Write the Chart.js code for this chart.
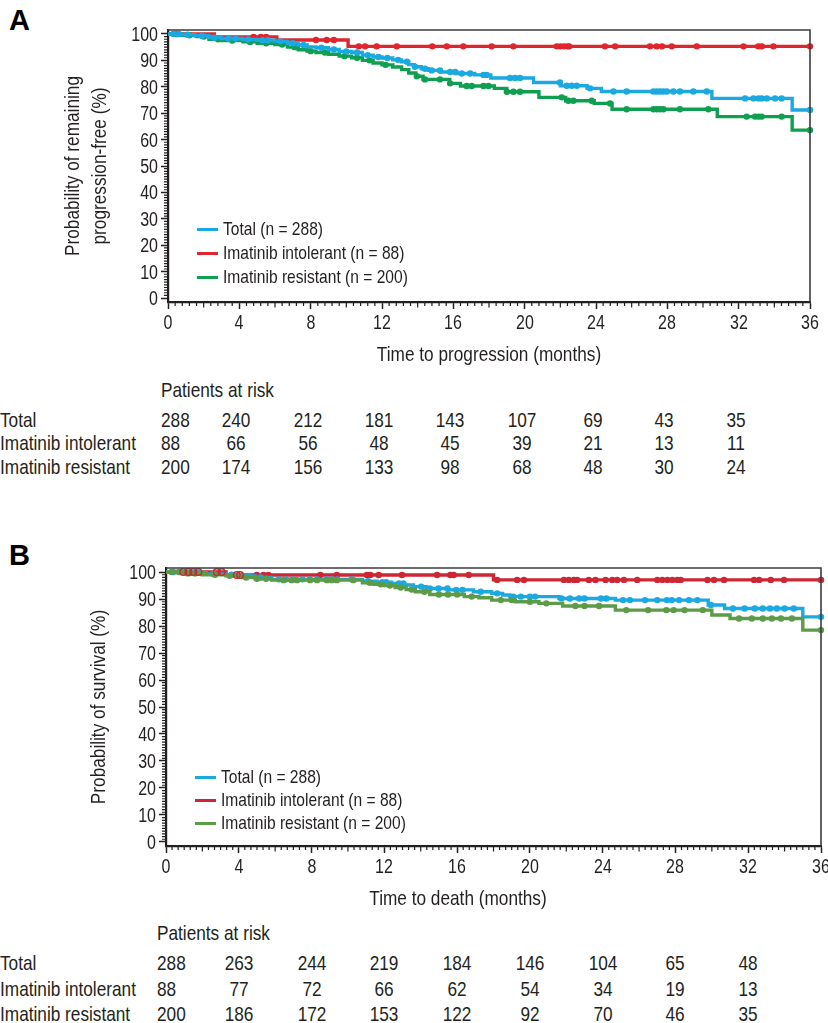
<!DOCTYPE html>
<html>
<head>
<meta charset="utf-8">
<script src="https://cdn.jsdelivr.net/npm/chart.js@4.4.1/dist/chart.umd.min.js"></script>
<style>
  html, body { margin: 0; padding: 0; background: #fff; }
  #wrap { position: relative; width: 828px; height: 1023px; overflow: hidden; background: #fff;
          font-family: "Liberation Sans", Arial, sans-serif; color: #231f20; }
  canvas { position: absolute; left: 0; }
  .letter { position: absolute; font-family: "Liberation Sans", Arial, sans-serif; font-weight: bold; font-size: 29px; line-height: 29px; color: #000; }
  .t { position: absolute; white-space: nowrap; line-height: 1.15; }
  .lg-line { position: absolute; width: 21px; height: 3px; }
</style>
</head>
<body>
<div id="wrap">
  <div class="letter" style="left:9px;top:6px">A</div>
  <canvas id="cA" width="828" height="372" style="top:0px"></canvas>
  <div class="letter" style="left:9px;top:541px">B</div>
  <canvas id="cB" width="828" height="390" style="top:530px"></canvas>
</div>
<script>
// ---------- shared tick labels ----------
const xTickVals = [0, 4, 8, 12, 16, 20, 24, 28, 32, 36];
const xTickLabels = ['0', '4', '8', '12', '16', '20', '24', '28', '32', '36'];
const yTickVals = [0, 10, 20, 30, 40, 50, 60, 70, 80, 90, 100];
const yTickLabels = ['0', '10', '20', '30', '40', '50', '60', '70', '80', '90', '100'];

const seriesNames = ['Total (n = 288)', 'Imatinib intolerant (n = 88)', 'Imatinib resistant (n = 200)'];
const riskRowLabels = ['Total', 'Imatinib intolerant', 'Imatinib resistant'];
const riskTimes = [0, 4, 8, 12, 16, 20, 24, 28, 32];

// ---------- Panel A: time to progression ----------
const pfsTotalT = [0, 0.8, 1.5, 2.3, 3.0, 4.2, 5.0, 6.0, 6.7, 7.3, 7.8, 8.3, 9.0, 9.6, 10.3, 10.9, 11.5, 12.0, 12.6, 13.1, 13.5, 13.8, 14.2, 14.6, 15.3, 16.2, 17.2, 18.1, 20.5, 22.0, 23.5, 24.3, 30.5, 35.0, 36.0];
const pfsTotalS = [100, 99.7, 99.3, 98.6, 98.3, 97.9, 97.6, 97.2, 96.5, 95.8, 95.1, 94.8, 94.1, 93.4, 93.0, 92.0, 91.3, 90.9, 90.2, 89.5, 88.4, 87.6, 86.8, 86.2, 85.6, 85.0, 84.5, 83.3, 81.6, 80.4, 79.4, 78.2, 75.6, 71.2, 71.2];
const pfsTotalCens = [0.3, 0.6, 1.1, 1.9, 2.6, 3.4, 3.8, 4.5, 5.3, 5.6, 6.3, 7.0, 7.6, 8.6, 9.3, 10.0, 10.6, 11.2, 11.8, 12.3, 12.9, 13.4, 13.85, 14.41, 14.79, 15.25, 15.82, 16.1, 16.47, 16.94, 17.69, 17.87, 19.18, 19.46, 19.74, 21.98, 22.36, 22.64, 22.92, 23.67, 24.98, 25.72, 27.22, 27.41, 27.59, 27.78, 27.97, 28.34, 28.71, 29.46, 30.21, 32.36, 32.83, 33.11, 33.29, 33.58, 34.04, 34.41, 36.0];

const pfsIntT = [0, 2.6, 6.1, 10.1, 36.0];
const pfsIntS = [100, 98.9, 97.7, 95.3, 95.3];
const pfsIntCens = [4.8, 5.2, 5.5, 8.3, 8.9, 9.3, 10.7, 11.05, 11.7, 12.83, 14.82, 15.63, 16.56, 18.15, 19.37, 21.8, 22.0, 22.2, 22.4, 22.5, 24.5, 25.07, 27.03, 27.4, 27.7, 28.25, 29.65, 32.27, 33.1, 33.3, 33.95, 36.0];

const pfsResT = [0, 0.8, 1.6, 2.3, 3.0, 4.2, 5.0, 6.0, 6.7, 7.3, 7.8, 8.3, 9.0, 9.6, 10.3, 10.9, 11.5, 12.0, 12.6, 13.1, 13.5, 13.9, 14.3, 15.8, 16.4, 18.3, 19.0, 20.8, 22.3, 23.9, 24.9, 30.8, 35.0, 36.0];
const pfsResS = [100, 99.5, 99.0, 98.0, 97.5, 97.0, 96.5, 96.0, 95.0, 94.0, 93.5, 93.0, 92.3, 91.6, 91.0, 90.0, 89.0, 88.3, 87.5, 86.5, 85.2, 84.0, 82.8, 81.3, 80.3, 79.4, 78.1, 76.0, 74.7, 73.7, 71.5, 68.7, 63.6, 63.6];
const pfsResCens = [0.5, 1.2, 2.0, 2.8, 3.6, 4.6, 5.5, 6.4, 7.1, 8.0, 8.8, 9.9, 10.6, 11.3, 12.2, 13.95, 14.41, 15.25, 15.82, 16.75, 17.03, 17.69, 17.97, 19.0, 19.37, 19.74, 22.08, 22.45, 22.73, 23.76, 24.79, 25.72, 27.22, 27.41, 27.59, 27.78, 28.71, 30.3, 32.45, 32.92, 33.11, 33.29, 34.41, 36.0];

const pfsRiskTotal = [288, 240, 212, 181, 143, 107, 69, 43, 35];
const pfsRiskInt = [88, 66, 56, 48, 45, 39, 21, 13, 11];
const pfsRiskRes = [200, 174, 156, 133, 98, 68, 48, 30, 24];

// ---------- Panel B: time to death ----------
const osTotalT = [0, 1.0, 2.2, 3.3, 4.2, 4.9, 5.8, 10.8, 11.6, 12.4, 13.1, 13.6, 14.3, 15.5, 16.9, 17.9, 18.5, 18.9, 21.6, 24.7, 29.8, 30.7, 35.0, 36.0];
const osTotalS = [100, 99.7, 99.3, 99.0, 98.6, 98.0, 97.3, 96.6, 96.2, 95.8, 95.2, 94.6, 93.9, 93.4, 92.7, 92.1, 91.5, 90.9, 90.2, 89.6, 87.8, 86.5, 83.4, 83.4];
const osTotalCens = [0.4, 0.8, 1.4, 1.8, 2.6, 3.6, 4.5, 5.2, 6.2, 6.6, 7.0, 7.5, 7.9, 8.3, 8.8, 9.1, 9.4, 10.2, 11.1, 11.9, 12.1, 12.8, 13.05, 14.02, 14.5, 14.98, 15.47, 15.95, 16.3, 17.3, 18.2, 19.09, 19.5, 20.0, 20.29, 21.74, 22.2, 22.71, 23.0, 23.91, 24.2, 25.12, 25.5, 26.33, 27.0, 27.53, 27.8, 28.2, 28.74, 29.2, 29.95, 31.16, 31.8, 32.36, 32.8, 33.2, 33.57, 34.0, 34.5, 36.0];

const osIntT = [0, 3.3, 18.0, 36.0];
const osIntS = [100, 98.9, 97.1, 97.1];
const osIntOpenCens = [0.95, 1.23, 1.5, 1.78, 2.79, 3.06, 3.89, 4.07];
const osIntCens = [4.99, 5.36, 5.63, 8.48, 9.39, 11.04, 11.23, 11.69, 12.97, 14.9, 15.63, 15.81, 16.64, 18.2, 19.3, 19.67, 21.87, 22.14, 22.42, 22.6, 23.24, 23.6, 24.16, 24.53, 24.8, 25.17, 25.9, 27.0, 27.28, 27.56, 27.83, 28.1, 28.29, 29.76, 30.12, 30.67, 32.32, 32.6, 33.24, 33.97, 36.0];

const osResT = [0, 1.0, 2.2, 3.3, 4.2, 4.9, 5.8, 10.8, 11.4, 12.0, 12.6, 13.2, 13.7, 14.5, 16.4, 17.2, 17.9, 19.2, 20.5, 21.8, 24.7, 30.0, 31.0, 35.0, 36.0];
const osResS = [100, 99.5, 99.0, 98.6, 98.0, 97.5, 97.0, 96.0, 95.5, 95.0, 94.3, 93.5, 92.7, 91.7, 90.9, 90.5, 89.6, 89.0, 88.4, 87.4, 85.9, 84.1, 82.8, 78.5, 78.5];
const osResCens = [0.3, 0.7, 1.2, 1.6, 2.0, 2.7, 3.5, 4.4, 5.0, 5.5, 6.46, 6.9, 7.2, 7.92, 8.3, 8.84, 9.12, 9.39, 10.3, 11.2, 11.8, 12.3, 12.9, 13.5, 14.2, 15.0, 15.5, 16.0, 16.8, 18.4, 19.0, 20.0, 20.9, 22.5, 23.0, 23.8, 25.3, 26.5, 27.5, 27.9, 28.5, 29.5, 31.5, 32.2, 32.8, 33.3, 33.8, 34.4, 36.0];

const osRiskTotal = [288, 263, 244, 219, 184, 146, 104, 65, 48];
const osRiskInt = [88, 77, 72, 66, 62, 54, 34, 19, 13];
const osRiskRes = [200, 186, 172, 153, 122, 92, 70, 46, 35];

// ---------- styling ----------
const INK = '#231f20';
const colA = { total: '#1aa9e1', int: '#e0262d', res: '#0f9f50' };
const colB = { total: '#1aa9e1', int: '#cc2733', res: '#5c9b48' };
const NARROW = 0.82;   // horizontal squeeze giving a condensed face

// Kaplan-Meier value held at time t (step lookup)
function kmAt(times, surv, t) {
  let v = surv[0];
  for (let i = 0; i < times.length; i++) { if (times[i] <= t + 1e-9) v = surv[i]; }
  return v;
}
function curve(times, surv, color, order) {
  return { data: times.map((t, i) => ({ x: t, y: surv[i] })), showLine: true, stepped: true,
           borderColor: color, backgroundColor: color, borderWidth: 3.4, pointRadius: 0,
           pointHoverRadius: 0, fill: false, order: order, clip: false };
}
function censors(cens, times, surv, color, order, open) {
  return { data: cens.map(t => ({ x: t, y: kmAt(times, surv, t) })), showLine: false,
           pointRadius: open ? 3.3 : 3.2, pointHoverRadius: 0,
           pointBackgroundColor: open ? 'rgba(255,255,255,0)' : color,
           pointBorderColor: color, pointBorderWidth: open ? 1.4 : 0, order: order, clip: false };
}

function axisDeco(xCount, xMid, xMajor) {
  return {
    id: 'axisDeco',
    afterDraw(chart) {
      const { ctx, chartArea: a, scales: { x, y } } = chart;
      ctx.save();
      ctx.strokeStyle = '#3c3c3c'; ctx.lineWidth = 1.6;
      ctx.beginPath();
      ctx.moveTo(a.left, a.top); ctx.lineTo(a.right, a.top); ctx.lineTo(a.right, a.bottom);
      ctx.stroke();
      ctx.strokeStyle = INK; ctx.lineWidth = 1.2;
      ctx.beginPath();
      for (let i = 1; i < xCount; i++) {
        if (i % xMajor === 0) continue;
        const px = x.getPixelForValue(i * 36 / xCount);
        const len = (i % xMid === 0) ? 5.5 : 4;
        ctx.moveTo(px, a.bottom); ctx.lineTo(px, a.bottom + len);
      }
      for (let v = 1; v < 100; v++) {
        if (v % 10 === 0) continue;
        const py = y.getPixelForValue(v);
        ctx.moveTo(a.left, py); ctx.lineTo(a.left - 4, py);
      }
      ctx.stroke();
      ctx.restore();
    }
  };
}

function makeChart(canvasId, datasets, cfg) {
  return new Chart(document.getElementById(canvasId), {
    type: 'scatter',
    data: { datasets: datasets },
    options: {
      responsive: false, animation: false, devicePixelRatio: 1,
      events: [],
      layout: { padding: { top: cfg.padTop, right: cfg.padRight, left: 0, bottom: 0 } },
      plugins: { legend: { display: false }, tooltip: { enabled: false } },
      scales: {
        x: {
          type: 'linear', position: 'bottom', min: 0, max: 36,
          afterBuildTicks: s => { s.ticks = xTickVals.map(v => ({ value: v })); },
          afterFit: s => { s.height = cfg.xHeight; s.paddingLeft = 0; s.paddingRight = 0; },
          ticks: { display: false },
          grid: { drawOnChartArea: false, drawTicks: true, tickLength: 7, tickWidth: 1.5, tickColor: INK },
          border: { display: true, color: INK, width: 2.2 },
          title: { display: false }
        },
        y: {
          type: 'linear', position: 'left', min: -1.5, max: 101.5,
          afterBuildTicks: s => { s.ticks = yTickVals.map(v => ({ value: v })); },
          afterFit: s => { s.width = cfg.yWidth; },
          ticks: { display: false },
          grid: { drawOnChartArea: false, drawTicks: true, tickLength: 7, tickWidth: 1.5, tickColor: INK },
          border: { display: true, color: INK, width: 2.2 },
          title: { display: false }
        }
      }
    },
    plugins: [axisDeco(cfg.xCount, cfg.xMid, cfg.xMajor)]
  });
}

const chartA = makeChart('cA', [
  censors(pfsTotalCens, pfsTotalT, pfsTotalS, colA.total, 0, false),
  curve(pfsTotalT, pfsTotalS, colA.total, 1),
  censors(pfsResCens, pfsResT, pfsResS, colA.res, 2, false),
  curve(pfsResT, pfsResS, colA.res, 3),
  censors(pfsIntCens, pfsIntT, pfsIntS, colA.int, 4, false),
  curve(pfsIntT, pfsIntS, colA.int, 5)
], { padTop: 30, padRight: 18, xHeight: 70, yWidth: 168, xCount: 90, xMid: 5, xMajor: 10 });

const chartB = makeChart('cB', [
  censors(osIntOpenCens, osIntT, osIntS, colB.int, 0, true),
  censors(osResCens, osResT, osResS, colB.res, 1, false),
  curve(osResT, osResS, colB.res, 2),
  censors(osTotalCens, osTotalT, osTotalS, colB.total, 3, false),
  curve(osTotalT, osTotalS, colB.total, 4),
  censors(osIntCens, osIntT, osIntS, colB.int, 5, false),
  curve(osIntT, osIntS, colB.int, 6)
], { padTop: 38, padRight: 7, xHeight: 74, yWidth: 166, xCount: 108, xMid: 6, xMajor: 12 });

// ---------- text (real DOM text, condensed) ----------
const wrap = document.getElementById('wrap');
function addText(txt, x, y, size, align, rotate) {
  const d = document.createElement('div');
  d.className = 't';
  d.textContent = txt;
  d.style.fontSize = size + 'px';
  d.style.left = x + 'px';
  d.style.top = y + 'px';
  if (rotate) {
    d.style.transform = 'translate(-50%,-50%) rotate(-90deg) scaleX(' + NARROW + ')';
  } else if (align === 'center') {
    d.style.transform = 'translate(-50%,-50%) scaleX(' + NARROW + ')';
  } else if (align === 'right') {
    d.style.transformOrigin = '100% 50%';
    d.style.transform = 'translate(-100%,-50%) scaleX(' + NARROW + ')';
  } else {
    d.style.transformOrigin = '0 50%';
    d.style.transform = 'translateY(-50%) scaleX(' + NARROW + ')';
  }
  wrap.appendChild(d);
}
function addAxisText(chart, top, xTitle, xTitleX, xTitleY, yTitleLines, yTitleXs) {
  const a = chart.chartArea, sx = chart.scales.x, sy = chart.scales.y;
  xTickVals.forEach((v, i) => addText(xTickLabels[i], sx.getPixelForValue(v), top + a.bottom + 19.5, 19.5, 'center'));
  yTickVals.forEach((v, i) => addText(yTickLabels[i], a.left - 10, top + sy.getPixelForValue(v), 19.5, 'right'));
  addText(xTitle, xTitleX, xTitleY, 21, 'center');
  const cy = top + (a.top + a.bottom) / 2;
  yTitleLines.forEach((line, i) => addText(line, yTitleXs[i], cy, 21, 'center', true));
}
function addLegend(colors, rowsY, lineLeft, textLeft) {
  seriesNames.forEach((name, i) => {
    const l = document.createElement('div');
    l.className = 'lg-line';
    l.style.left = lineLeft + 'px';
    l.style.top = (rowsY[i] - 1.5) + 'px';
    l.style.background = colors[i];
    wrap.appendChild(l);
    addText(name, textLeft, rowsY[i], 19);
  });
}
function addRiskTable(chart, headY, rowsY, rows, firstOffset, colShift) {
  const xs = riskTimes.map(t => chart.scales.x.getPixelForValue(t));
  addText('Patients at risk', xs[0] + firstOffset, headY, 21);
  rows.forEach((vals, r) => {
    addText(riskRowLabels[r], 0, rowsY[r], 21);
    vals.forEach((v, j) => {
      if (j === 0) addText(String(v), xs[0] + firstOffset, rowsY[r], 21);
      else addText(String(v), xs[j] + colShift, rowsY[r], 21, 'center');
    });
  });
}

addAxisText(chartA, 0, 'Time to progression (months)', 489, 354,
            ['Probability of remaining', 'progression-free (%)'], [72, 99]);
addAxisText(chartB, 530, 'Time to death (months)', 458, 898,
            ['Probability of survival (%)'], [98]);
addLegend([colA.total, colA.int, colA.res], [229, 253, 277], 197, 223);
addLegend([colB.total, colB.int, colB.res], [777, 800, 823], 195, 221);
addRiskTable(chartA, 390, [420, 443, 467], [pfsRiskTotal, pfsRiskInt, pfsRiskRes], -7, -3);
addRiskTable(chartB, 933, [963, 989, 1014], [osRiskTotal, osRiskInt, osRiskRes], -9, 0);
</script>
</body>
</html>
